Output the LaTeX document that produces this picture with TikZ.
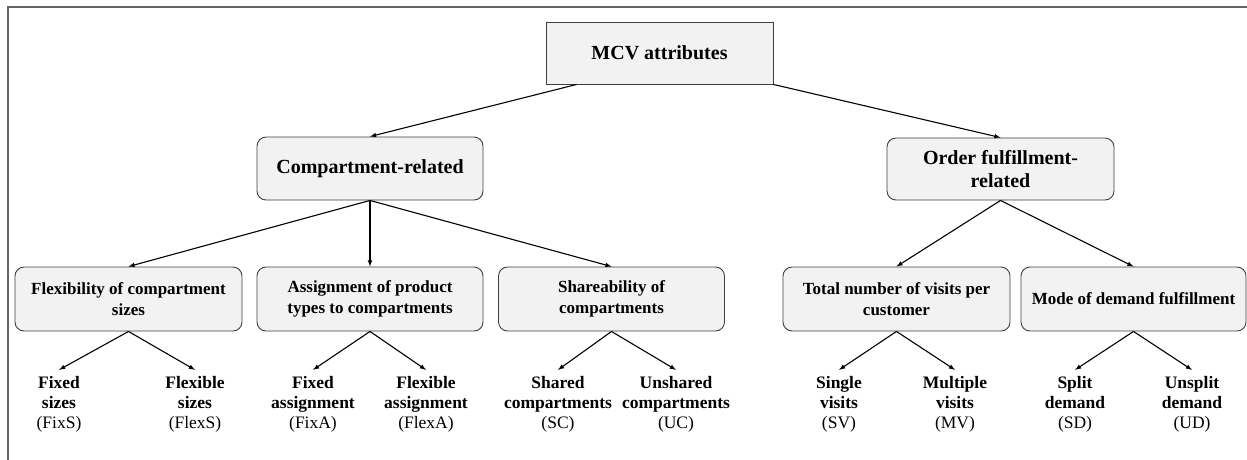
\documentclass[tikz,border=0pt]{standalone}
\usepackage{fontspec}
\setmainfont{Liberation Serif}
\begin{document}
\begin{tikzpicture}[x=1pt,y=-1pt,
    box/.style={draw=black!75,fill=black!5,line width=0.9pt,rounded corners=9pt,
        minimum width=226pt,minimum height=63pt,align=center,inner sep=2pt},
    small/.style={font=\fontsize{17}{21}\selectfont\bfseries},
    big/.style={font=\fontsize{20}{23}\selectfont\bfseries},
    leaf/.style={align=center,inner sep=6pt,font=\fontsize{17.5}{20}\selectfont},
    arr/.style={->,>=latex,line width=1.1pt}]
    \useasboundingbox (0,0) rectangle (1247,459);
    % frame
    \draw[black!60,line width=2.4pt] (8,470) -- (8,7) -- (1260,7);

    \node[box,big,rounded corners=0pt,minimum width=227pt,minimum height=62pt] (root) at (659.5,53) {MCV attributes};
    \node[box,big] (comp) at (370,168.5) {Compartment-related};
    \node[box,big,minimum width=227pt,minimum height=62pt] (order) at (1000.5,169) {Order fulfillment-\\related};

    \node[box,small,minimum width=227pt,minimum height=64pt] (flex) at (128.5,299) {Flexibility of compartment\\sizes};
    \node[box,small,minimum height=64pt] (assign) at (370,299) {Assignment of product\\types to compartments};
    \node[box,small,minimum height=64pt] (share) at (611.5,299) {Shareability of\\compartments};
    \node[box,small,minimum width=227pt,minimum height=64pt] (total) at (896.5,299) {Total number of visits per\\customer};
    \node[box,small,minimum width=225pt,minimum height=64pt] (mode) at (1133.5,299) {Mode of demand fulfillment};

    \node[leaf] (fixs) at (59,404) {\textbf{Fixed}\\\textbf{sizes}\\(FixS)};
    \node[leaf] (flexs) at (195,404) {\textbf{Flexible}\\\textbf{sizes}\\(FlexS)};
    \node[leaf] (fixa) at (313,404) {\textbf{Fixed}\\\textbf{assignment}\\(FixA)};
    \node[leaf] (flexa) at (426,404) {\textbf{Flexible}\\\textbf{assignment}\\(FlexA)};
    \node[leaf] (sc) at (558,404) {\textbf{Shared}\\\textbf{compartments}\\(SC)};
    \node[leaf] (uc) at (676,404) {\textbf{Unshared}\\\textbf{compartments}\\(UC)};
    \node[leaf] (sv) at (839,404) {\textbf{Single}\\\textbf{visits}\\(SV)};
    \node[leaf] (mv) at (955,404) {\textbf{Multiple}\\\textbf{visits}\\(MV)};
    \node[leaf] (sd) at (1075,404) {\textbf{Split}\\\textbf{demand}\\(SD)};
    \node[leaf] (ud) at (1192,404) {\textbf{Unsplit}\\\textbf{demand}\\(UD)};

    \draw[arr] ([xshift=31pt]root.south west) -- (comp.north);
    \draw[arr] (root.south east) -- (order.north);
    \foreach \c in {flex,assign,share}
        \draw[arr] (comp.south) -- (\c.north);
    \foreach \c in {total,mode}
        \draw[arr] (order.south) -- (\c.north);
    \foreach \p/\a/\b in {flex/fixs/flexs,assign/fixa/flexa,share/sc/uc,total/sv/mv,mode/sd/ud}{
        \draw[arr] (\p.south) -- (\a.north);
        \draw[arr] (\p.south) -- (\b.north);
    }
\end{tikzpicture}
\end{document}
